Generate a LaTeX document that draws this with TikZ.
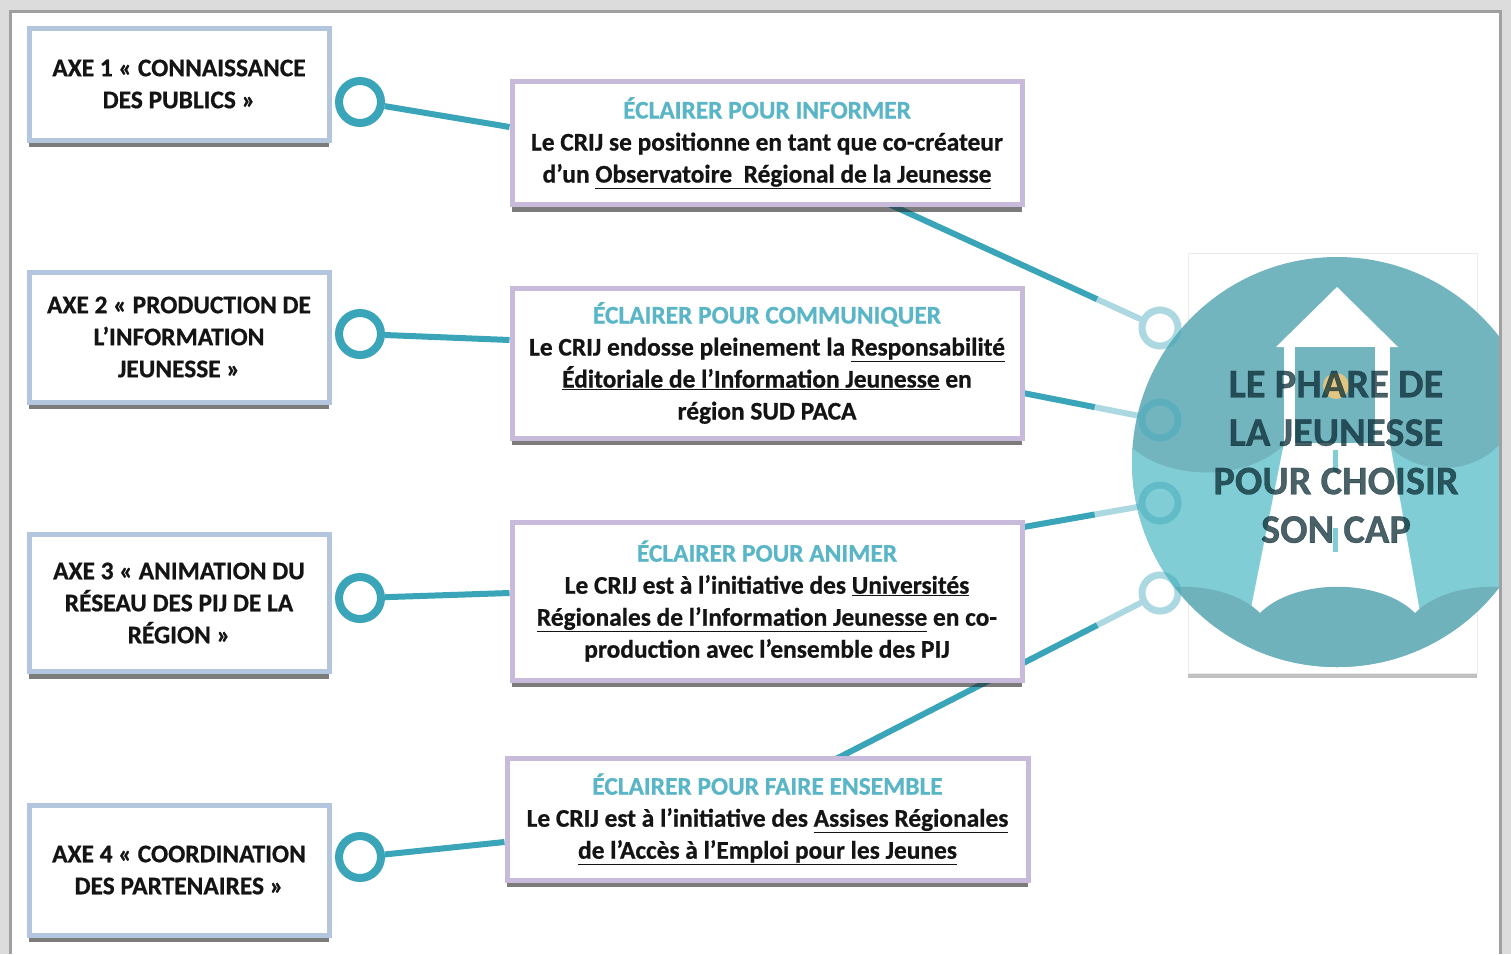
\documentclass[tikz,border=0pt]{standalone}
\usepackage{fontspec}
\setmainfont{Carlito}[BoldFont={Carlito Bold}, BoldFeatures={FakeBold=0.7}]
\usetikzlibrary{shadows,calc}
\definecolor{teal1}{HTML}{3AA5B8}
\definecolor{ttl}{HTML}{5AB6C7}
\definecolor{axeb}{HTML}{B4C6DD}
\definecolor{actb}{HTML}{C8BADB}
\definecolor{ctop}{HTML}{73B5BF}
\definecolor{cband}{HTML}{80CDD5}
\definecolor{cbot}{HTML}{70B2BC}
\definecolor{txt}{HTML}{141414}
\definecolor{ptxt}{HTML}{0A2A33}
\definecolor{fr1}{HTML}{DCDCDC}
\definecolor{fr2}{HTML}{A0A0A0}
\definecolor{sun}{HTML}{F3C877}
\tikzset{
  boxbase/.style={line width=5pt, fill=white, align=center, text=txt,
    font=\bfseries\fontsize{25.4}{32}\selectfont,
    drop shadow={shadow xshift=0pt, shadow yshift=-7pt, opacity=0.6, fill=black!85}},
  axe/.style={boxbase, draw=axeb, minimum width=300pt},
  act/.style={boxbase, draw=actb},
  ring/.style={circle, draw=teal1, line width=8pt, minimum size=42pt, inner sep=0pt},
  qring/.style={circle, draw=teal1, draw opacity=0.42, line width=7pt, minimum size=36pt, inner sep=0pt},
  link/.style={draw=teal1, line width=6pt},
  fade/.style={draw opacity=0.42},
}
\begin{document}
\begin{tikzpicture}[x=1pt,y=-1pt]
\useasboundingbox (0,0) rectangle (1511,954);
\fill[white] (0,0) rectangle (1511,954);

% ---------- left rings ----------
\node[ring] (r1) at (360,102) {};
\node[ring] (r2) at (360,334) {};
\node[ring] (r3) at (360,598) {};
\node[ring] (r4) at (360,857) {};

% ---------- left boxes ----------
\path
  node[axe, minimum height=112pt] (a1) at (179,84) {AXE 1 « CONNAISSANCE\\ DES PUBLICS »}
  node[axe, minimum height=130pt] (a2) at (179,337) {AXE 2 « PRODUCTION DE\\ L’INFORMATION\\ JEUNESSE »}
  node[axe, minimum height=137pt] (a3) at (179,603) {AXE 3 « ANIMATION DU\\ RÉSEAU DES PIJ DE LA\\ RÉGION »}
  node[axe, minimum height=130pt] (a4) at (179,870) {AXE 4 « COORDINATION\\ DES PARTENAIRES »};

\coordinate (c1) at (767,143);
\coordinate (c2) at (767,363);
\coordinate (c3) at (767,601);
\coordinate (c4) at (767.5,819);

% ---------- right-hand connectors (under boxes) ----------
\node[qring, draw=none] (q1) at (1160,328) {};
\node[qring, draw=none] (q2) at (1160,420) {};
\node[qring, draw=none] (q3) at (1160,503) {};
\node[qring, draw=none] (q4) at (1160,593) {};

\coordinate (s1) at (880,200);
\coordinate (s2) at (1018,392);
\coordinate (s3) at (1018,528);
\coordinate (s4) at (830,762);
\coordinate (f1) at ($(s1)!0.775!(q1)$);
\coordinate (f2) at ($(s2)!0.54!(q2)$);
\coordinate (f3) at ($(s3)!0.54!(q3)$);
\coordinate (f4) at ($(s4)!0.81!(q4)$);
\draw[link] (s1) -- (f1);
\draw[link] (s2) -- (f2);
\draw[link] (s3) -- (f3);
\draw[link] (s4) -- (f4);

% ---------- action boxes ----------
\node[act, minimum width=510pt, minimum height=123pt] (b1) at (c1)
  {\textcolor{ttl}{ÉCLAIRER POUR INFORMER}\\
   Le CRIJ se positionne en tant que co-créateur\\
   d’un \underline{Observatoire\ \ Régional de la Jeunesse}};
\node[act, minimum width=510pt, minimum height=150pt] (b2) at (c2)
  {\textcolor{ttl}{ÉCLAIRER POUR COMMUNIQUER}\\
   Le CRIJ endosse pleinement la \underline{Responsabilité}\\
   \underline{Éditoriale de l’Information Jeunesse} en\\
   région SUD PACA};
\node[act, minimum width=510pt, minimum height=158pt] (b3) at (c3)
  {\textcolor{ttl}{ÉCLAIRER POUR ANIMER}\\
   Le CRIJ est à l’initiative des \underline{Universités}\\
   \underline{Régionales de l’Information Jeunesse} en co-\\
   production avec l’ensemble des PIJ};
\node[act, minimum width=521pt, minimum height=122pt] (b4) at (c4)
  {\textcolor{ttl}{ÉCLAIRER POUR FAIRE ENSEMBLE}\\
   Le CRIJ est à l’initiative des \underline{Assises Régionales}\\
   \underline{de l’Accès à l’Emploi pour les Jeunes}};

% ---------- left connectors ----------
\draw[link] (r1) -- ([yshift=16pt]b1.west);
\draw[link] (r2) -- ([yshift=23pt]b2.west);
\draw[link] (r3) -- ([yshift=8pt]b3.west);
\draw[link] (r4) -- ([yshift=-23pt]b4.west);

% ---------- right card and lighthouse ----------
\node[draw=black!8, fill=white, minimum width=289pt, minimum height=420pt,
  drop shadow={shadow xshift=0pt, shadow yshift=-5pt, opacity=0.4, fill=black!60}] (card) at (1332.5,463) {};
\begin{scope}
  \clip (1337,462) circle (205);
  \fill[ctop] (1100,240) rectangle (1580,700);
  \fill[cband] (1100,444) -- (1128,444)
     .. controls (1165,482) and (1248,482) .. (1285,444)
     .. controls (1310,474) and (1362,474) .. (1387,444)
     .. controls (1415,476) and (1472,476) .. (1500,444)
     .. controls (1520,469) and (1550,469) .. (1580,444)
     -- (1580,700) -- (1100,700) -- cycle;
  \fill[white] (1276,347) -- (1337,287) -- (1398,347) -- cycle;
  \fill[white] (1284,345) rectangle (1390,446);
  \fill[ctop] (1295,347) rectangle (1375,443);
  \fill[white] (1284,443) -- (1390,443) -- (1421,618) -- (1249,618) -- cycle;
  \draw[cband, line width=5pt] (1335,450) -- (1335,472) (1335,528) -- (1335,552);
  \fill[cbot] (1105,613) .. controls (1140,578) and (1225,578) .. (1260,613)
     .. controls (1295,578) and (1380,578) .. (1415,613)
     .. controls (1450,578) and (1535,578) .. (1570,613)
     -- (1580,700) -- (1100,700) -- cycle;
\end{scope}
\fill[sun, opacity=0.85] (1336,386) circle (13);
\node[text=ptxt, text opacity=0.74, align=center,
  font=\bfseries\fontsize{40.5}{48.5}\selectfont] (phare) at (1336,457)
  {LE PHARE DE\\ LA JEUNESSE\\ POUR CHOISIR\\ SON CAP};

% faded ends of the right connectors and rings
\draw[link, fade] (f1) -- (q1);
\draw[link, fade] (f2) -- (q2);
\draw[link, fade] (f3) -- (q3);
\draw[link, fade] (f4) -- (q4);
\node[qring] at (q1) {};
\node[qring] at (q2) {};
\node[qring] at (q3) {};
\node[qring] at (q4) {};

% ---------- frame ----------
\fill[fr1] (0,0) rectangle (1511,13);
\fill[fr1] (0,0) rectangle (12,954);
\fill[fr1] (1499,0) rectangle (1511,954);
\draw[fr2, line width=3pt] (10.5,954) -- (10.5,11.5) -- (1500.5,11.5) -- (1500.5,954);
\end{tikzpicture}
\end{document}
